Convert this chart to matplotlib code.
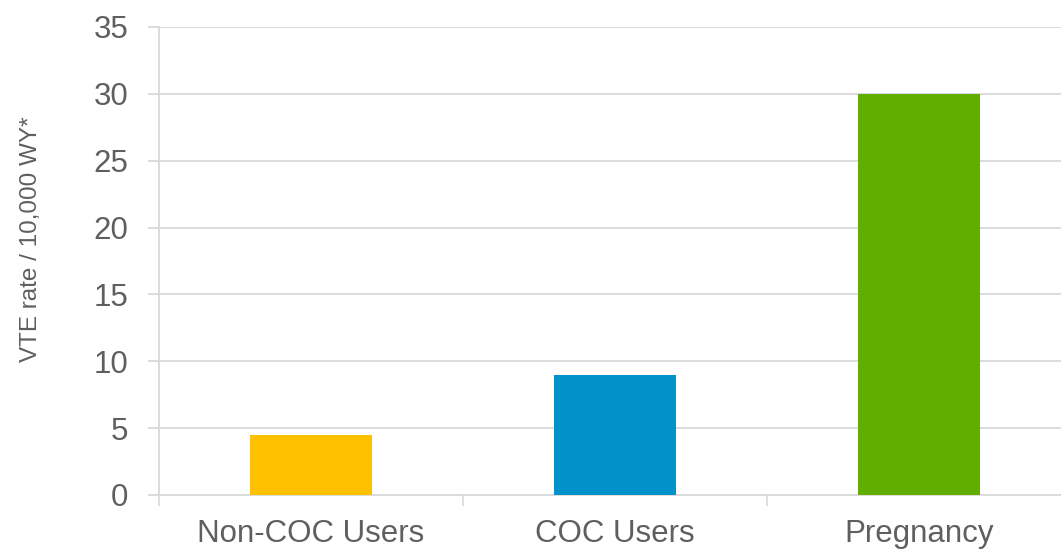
import matplotlib
matplotlib.use("Agg")
import matplotlib.pyplot as plt
import numpy as np

categories = ["Non-COC Users", "COC Users", "Pregnancy"]
values = [4.5, 9, 30]
colors = ["#FFC000", "#0092C8", "#62AE00"]
yticks = [0, 5, 10, 15, 20, 25, 30, 35]

plt.rcParams['font.family'] = ['Liberation Sans', 'DejaVu Sans']

fig = plt.figure(figsize=(10.61, 5.5), dpi=100)
ax = fig.add_axes([159/1061, 0.1, 912/1061, (495-27)/550])

x = np.arange(len(categories))
ax.bar(x, values, width=0.4, color=colors, zorder=3)

ax.set_xlim(-0.5, len(categories) - 0.5)
ax.set_ylim(0, 35)
ax.set_yticks(yticks)
ax.set_yticklabels([str(t) for t in yticks])
ax.grid(axis='y', color='#D9D9D9', linewidth=1.3, zorder=0)

ax.set_xticks(x)
ax.set_xticklabels(categories)
ax.set_xticks(np.arange(-0.5, len(categories), 1.0), minor=True)
ax.tick_params(axis='x', which='major', length=0, pad=17, labelsize=22.5, labelcolor='#5F5F5F')
ax.tick_params(axis='x', which='minor', length=8, width=1.2, color='#D9D9D9', direction='out')
ax.tick_params(axis='y', length=8, width=1.3, color='#D9D9D9', pad=14, labelsize=22.5, labelcolor='#5F5F5F')

for s in ['top', 'right']:
    ax.spines[s].set_visible(False)
for s in ['left', 'bottom']:
    ax.spines[s].set_color('#D9D9D9')
    ax.spines[s].set_linewidth(1.3)

ax.set_ylabel("VTE rate / 10,000 WY*", fontsize=17.5, color='#5F5F5F')
ax.yaxis.set_label_coords((42-159)/912, (495-239)/468)

fig.savefig("out.png", dpi=100)
